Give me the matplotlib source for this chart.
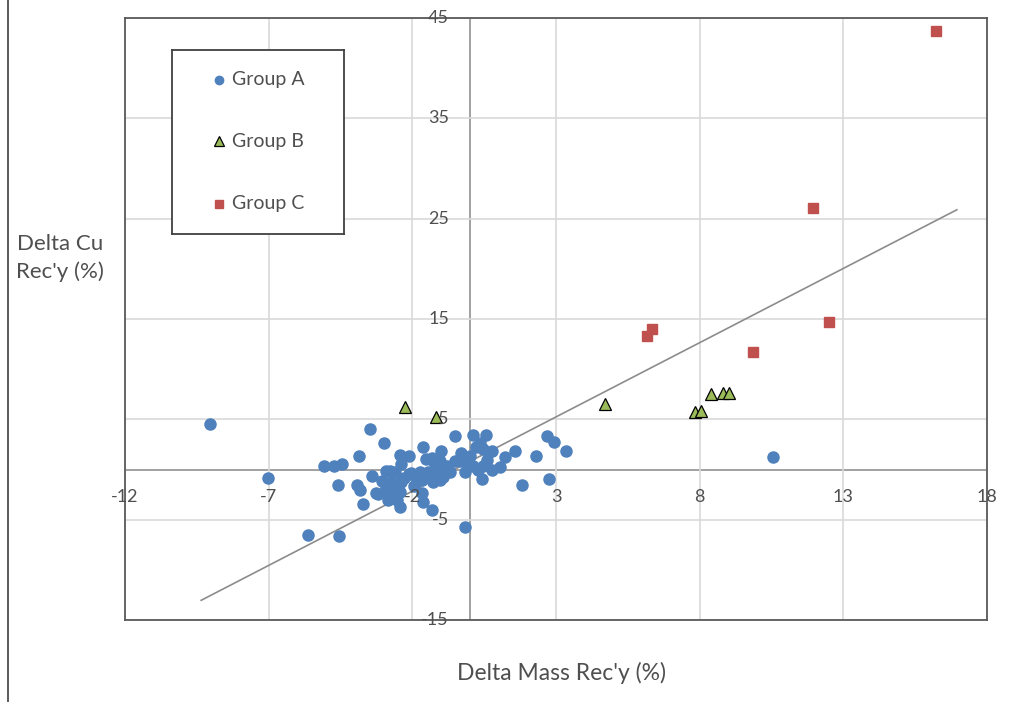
import numpy as np
import matplotlib
matplotlib.use("Agg")
import matplotlib.pyplot as plt
from matplotlib.lines import Line2D

plt.rcParams['font.family'] = ['Lato', 'DejaVu Sans']

# Delta mass recovery (x) vs delta Cu recovery (y), in %
group_a_x = [-9.05, -7.04, -5.06, -4.71, -4.44, -4.58, -5.63, -4.56, -3.87, -3.47,
             -2.97, -3.42, -3.91, -3.82, -3.70, -3.07, -3.19, -2.90, -2.78, -2.61,
             -2.44, -2.11, -2.38, -1.62, -0.99, -1.53, -1.33, -1.24, -1.04, -2.03,
             -1.74, -1.45, -0.93, -2.73, -2.38, -1.68, -1.28, -0.93, -3.25, -2.90,
             -2.61, -2.44, -2.84, -2.55, -1.68, -1.62, -2.44, -1.33, -0.52, 0.12,
             0.58, 0.35, 0.23, 0.46, 0.76, -0.52, -0.35, 0.00, 1.22, 0.12,
             0.46, 0.76, 1.04, -1.16, -0.70, -0.17, 0.29, -1.04, 0.41, 2.67,
             2.94, 3.34, 1.57, 2.29, 1.82, 2.76, -0.17, 10.54, -0.06, -2.92,
             -2.12, -1.90, -0.80, -0.30, -2.30, -1.95, -1.10, 0.60, -2.60, -1.50]
group_a_y = [4.5, -0.8, 0.3, 0.3, 0.5, -1.5, -6.5, -6.6, 1.3, 4.0,
             2.6, -0.6, -1.5, -2.0, -3.4, -1.1, -2.4, -0.1, -0.1, -0.2,
             1.4, 1.3, 0.5, 2.2, 1.8, 1.0, 1.1, 0.7, 0.8, -0.3,
             -0.2, -0.2, -0.2, -1.2, -1.2, -1.0, -1.2, -0.7, -2.3, -2.0,
             -1.7, -2.2, -3.0, -3.0, -2.3, -3.2, -3.7, -4.0, 3.3, 3.4,
             3.4, 2.6, 2.2, 2.0, 1.8, 0.8, 0.8, 1.3, 1.2, 0.3,
             0.3, 0.0, 0.2, -0.3, -0.2, -0.2, 0.0, -1.0, -0.9, 3.3,
             2.7, 1.8, 1.8, 1.3, -1.5, -0.9, -5.75, 1.2, 0.5, -1.7,
             -0.4, -0.6, 0.3, 1.6, -0.8, -1.6, 0.2, 0.9, -2.5, -0.6]

group_b_x = [-2.26, -1.18, 4.70, 7.83, 8.04, 8.38, 8.82, 9.03]
group_b_y = [6.2, 5.2, 6.5, 5.75, 5.8, 7.55, 7.65, 7.6]

group_c_x = [16.22, 11.94, 12.51, 9.85, 6.35, 6.16]
group_c_y = [43.7, 26.1, 14.7, 11.7, 13.96, 13.3]

# linear trend across all groups
trend_slope = 1.48
trend_intercept = 0.8
trend_x = np.array([-9.35, 16.95])

x_ticks = [-12, -7, -2, 3, 8, 13, 18]
y_ticks = [-15, -5, 5, 15, 25, 35, 45]

legend_labels = ["Group A", "Group B", "Group C"]

blue = "#4F81BD"
green = "#9BBB59"
red = "#C0504D"
label_grey = "#4f4f4f"

W, H = 1022, 702
fig = plt.figure(figsize=(W / 100, H / 100), dpi=100)
fig.patch.set_facecolor("white")

ax = fig.add_axes([125 / W, 1 - 620 / H, (987 - 125) / W, (620 - 18) / H])
ax.set_xlim(-12, 18)
ax.set_ylim(-15, 45)
ax.set_xticks(x_ticks)
ax.set_yticks(y_ticks)
ax.tick_params(length=0, labelbottom=False, labelleft=False)
ax.grid(True, color="#d9d9d9", lw=1.2, zorder=0)
for sp in ax.spines.values():
    sp.set_color("#595959")
    sp.set_linewidth(1.3)

# axes cross at zero
ax.axhline(0, color="#9a9a9a", lw=1.3, zorder=1)
ax.axvline(0, color="#9a9a9a", lw=1.3, zorder=1)

ax.plot(trend_x, trend_slope * trend_x + trend_intercept, color="#8c8c8c", lw=1.2, zorder=2)

ax.plot(group_a_x, group_a_y, ls="none", marker="o", ms=8, color=blue, mec=blue, zorder=3)
ax.plot(group_b_x, group_b_y, ls="none", marker="^", ms=9, color=green, mec="black", mew=0.9, zorder=4)
ax.plot(group_c_x, group_c_y, ls="none", marker="s", ms=6.5, color=red, mec=red, zorder=4)

# tick labels sit next to the zero axes
for xv in x_ticks:
    ax.annotate(str(xv), (xv, 0), xytext=(0, -20), textcoords="offset points",
                ha="center", va="center", fontsize=13, color=label_grey, zorder=5)
for yv in y_ticks:
    ax.annotate(str(yv), (0, yv), xytext=(-15, 0), textcoords="offset points",
                ha="right", va="center", fontsize=13, color=label_grey, zorder=5)

fig.text(561 / W, 1 - 673 / H, "Delta Mass Rec'y (%)", ha="center", va="center",
         fontsize=16.5, color=label_grey)
fig.text(60 / W, 1 - 258 / H, "Delta Cu\nRec'y (%)", ha="center", va="center",
         fontsize=16, color=label_grey, linespacing=1.45)

# boxed legend
lg = fig.add_axes([172 / W, 1 - 234 / H, 172 / W, 184 / H])
lg.set_xlim(0, 172)
lg.set_ylim(184, 0)
lg.set_xticks([])
lg.set_yticks([])
for sp in lg.spines.values():
    sp.set_color("#404040")
    sp.set_linewidth(1.3)
rows = [30, 91, 154]
lg.plot([47], [rows[0]], marker="o", ms=6, color=blue, ls="none")
lg.plot([47], [rows[1]], marker="^", ms=7.5, color=green, mec="black", mew=0.9, ls="none")
lg.plot([47], [rows[2]], marker="s", ms=6, color=red, ls="none")
for r, lab in zip(rows, legend_labels):
    lg.text(60, r, lab, ha="left", va="center", fontsize=14, color=label_grey)

fig.add_artist(Line2D([8 / W, 8 / W], [0, 1], transform=fig.transFigure, color="#404040", lw=1.2))

fig.savefig("out.png", dpi=100)
